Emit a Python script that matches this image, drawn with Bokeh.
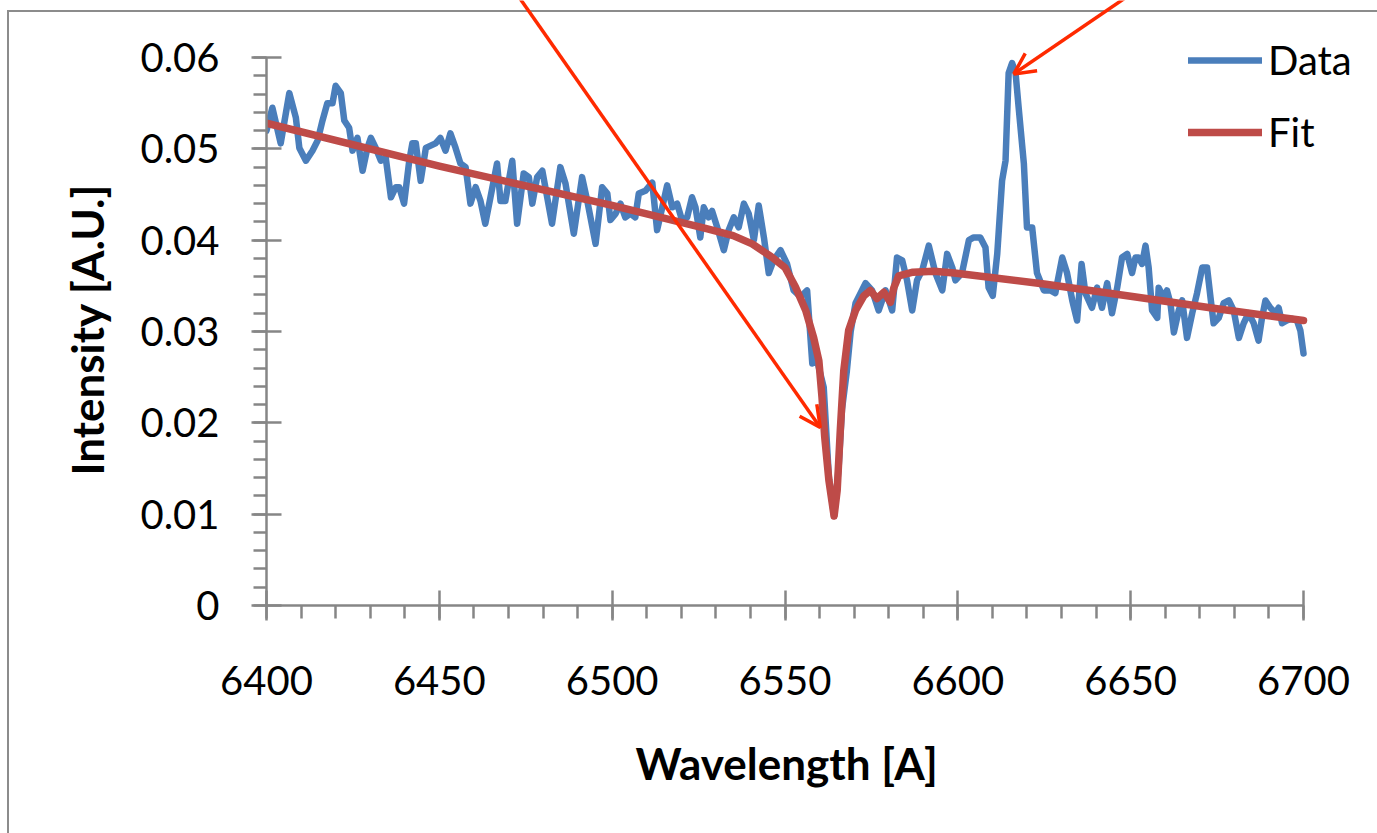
import numpy as np
from bokeh.plotting import figure
from bokeh.models import SingleIntervalTicker, CustomJSTickFormatter, Arrow, OpenHead, Title
from bokeh.embed import file_html
from bokeh.resources import INLINE

# Measured spectrum (wavelength in Angstrom, intensity in arbitrary units)
WAVELENGTH = [
    6400.0, 6401.7, 6404.1, 6406.6, 6408.5, 6409.5, 6411.4, 6413.3, 6414.8, 6416.2,
    6417.6, 6419.1, 6420.0, 6421.5, 6422.5, 6423.9, 6424.9, 6426.3, 6427.8, 6429.2,
    6430.2, 6431.6, 6433.1, 6434.5, 6436.0, 6437.4, 6438.4, 6439.8, 6441.3, 6442.2,
    6443.2, 6444.6, 6446.1, 6448.9, 6450.3, 6451.8, 6453.2, 6454.7, 6456.1, 6457.6,
    6459.0, 6460.5, 6461.9, 6463.3, 6464.8, 6466.7, 6467.7, 6469.1, 6471.1, 6472.5,
    6474.4, 6475.9, 6476.9, 6478.3, 6479.8, 6481.2, 6482.6, 6485.0, 6486.5, 6488.9,
    6491.3, 6492.8, 6495.2, 6497.1, 6498.6, 6499.5, 6501.0, 6502.4, 6503.8, 6505.3,
    6506.7, 6507.7, 6509.6, 6511.6, 6513.0, 6514.5, 6515.9, 6517.4, 6518.8, 6520.2,
    6521.7, 6523.1, 6524.1, 6525.5, 6526.5, 6527.9, 6528.9, 6530.4, 6532.3, 6533.7,
    6535.2, 6536.6, 6538.1, 6539.5, 6541.0, 6542.4, 6543.9, 6545.3, 6546.7, 6548.7,
    6550.6, 6552.5, 6554.5, 6556.4, 6557.9, 6559.3, 6561.2, 6562.7, 6564.2, 6565.5,
    6566.5, 6567.9, 6569.0, 6570.4, 6573.3, 6575.2, 6577.1, 6579.1, 6581.0, 6582.4,
    6583.9, 6585.3, 6586.8, 6588.2, 6589.7, 6591.6, 6593.5, 6595.5, 6596.9, 6598.4,
    6599.3, 6601.2, 6603.2, 6604.6, 6606.5, 6608.0, 6608.9, 6610.1, 6611.4, 6612.8,
    6613.8, 6614.7, 6615.7, 6616.7, 6617.6, 6619.1, 6620.0, 6621.5, 6622.9, 6624.9,
    6626.8, 6628.2, 6630.2, 6631.6, 6633.1, 6634.5, 6635.8, 6636.9, 6638.8, 6640.3,
    6641.7, 6643.2, 6644.6, 6646.1, 6647.5, 6649.0, 6650.4, 6651.4, 6652.3, 6653.3,
    6654.3, 6655.2, 6656.2, 6657.7, 6658.1, 6659.6, 6660.5, 6661.5, 6662.5, 6663.9,
    6664.9, 6666.3, 6667.8, 6669.2, 6670.7, 6672.1, 6673.1, 6674.0, 6675.5, 6676.9,
    6678.4, 6679.8, 6681.3, 6682.7, 6684.1, 6685.6, 6687.0, 6688.0, 6689.0, 6690.4,
    6691.9, 6692.8, 6693.8, 6695.2, 6696.7, 6698.1, 6699.1, 6700.0,
]
INTENSITY = [
    0.0520, 0.0545, 0.0506, 0.0561, 0.0534, 0.0501, 0.0487, 0.0498, 0.0509, 0.0531,
    0.0550, 0.0550, 0.0569, 0.0561, 0.0531, 0.0523, 0.0498, 0.0512, 0.0476, 0.0501,
    0.0512, 0.0501, 0.0487, 0.0490, 0.0447, 0.0458, 0.0458, 0.0440, 0.0487, 0.0506,
    0.0506, 0.0465, 0.0501, 0.0506, 0.0512, 0.0498, 0.0517, 0.0501, 0.0484, 0.0480,
    0.0440, 0.0458, 0.0443, 0.0418, 0.0447, 0.0484, 0.0443, 0.0443, 0.0487, 0.0418,
    0.0473, 0.0469, 0.0440, 0.0469, 0.0476, 0.0447, 0.0418, 0.0480, 0.0462, 0.0407,
    0.0469, 0.0443, 0.0396, 0.0458, 0.0451, 0.0422, 0.0429, 0.0440, 0.0425, 0.0429,
    0.0425, 0.0451, 0.0454, 0.0463, 0.0411, 0.0436, 0.0460, 0.0436, 0.0440, 0.0422,
    0.0425, 0.0447, 0.0436, 0.0403, 0.0436, 0.0425, 0.0432, 0.0414, 0.0389, 0.0411,
    0.0425, 0.0414, 0.0440, 0.0429, 0.0400, 0.0438, 0.0403, 0.0364, 0.0378, 0.0389,
    0.0374, 0.0345, 0.0338, 0.0345, 0.0265, 0.0268, 0.0239, 0.0140, 0.0098, 0.0150,
    0.0215, 0.0257, 0.0300, 0.0331, 0.0353, 0.0345, 0.0323, 0.0345, 0.0323, 0.0381,
    0.0378, 0.0356, 0.0323, 0.0356, 0.0367, 0.0394, 0.0364, 0.0345, 0.0385, 0.0370,
    0.0356, 0.0364, 0.0400, 0.0403, 0.0403, 0.0392, 0.0348, 0.0339, 0.0385, 0.0465,
    0.0487, 0.0583, 0.0594, 0.0583, 0.0545, 0.0484, 0.0414, 0.0414, 0.0364, 0.0345,
    0.0345, 0.0342, 0.0381, 0.0364, 0.0334, 0.0312, 0.0374, 0.0342, 0.0326, 0.0348,
    0.0326, 0.0353, 0.0320, 0.0348, 0.0381, 0.0385, 0.0364, 0.0381, 0.0381, 0.0374,
    0.0394, 0.0370, 0.0323, 0.0315, 0.0348, 0.0337, 0.0345, 0.0331, 0.0299, 0.0323,
    0.0334, 0.0293, 0.0320, 0.0342, 0.0370, 0.0370, 0.0337, 0.0309, 0.0315, 0.0331,
    0.0334, 0.0323, 0.0293, 0.0309, 0.0320, 0.0309, 0.0290, 0.0315, 0.0334, 0.0326,
    0.0320, 0.0326, 0.0309, 0.0312, 0.0314, 0.0312, 0.0301, 0.0276,
]

# Fitted model: sloping continuum with an absorption line near 6564 A
FIT_WAVELENGTH = [
    6400.0, 6450.0, 6500.0, 6527.0, 6535.0, 6540.5, 6546.0, 6550.0, 6553.0, 6556.0,
    6558.3, 6559.8, 6560.7, 6561.5, 6562.7, 6564.2, 6565.1, 6566.0, 6567.0, 6568.4,
    6570.4, 6572.8, 6574.7, 6576.6, 6578.6, 6580.5, 6581.5, 6582.9, 6587.0, 6593.0,
    6599.0, 6625.0, 6651.0, 6675.0, 6700.0,
]
FIT_INTENSITY = [
    0.0528, 0.0481, 0.0438, 0.0413, 0.0405, 0.0396, 0.0382, 0.0370, 0.0349, 0.0323,
    0.0293, 0.0268, 0.0228, 0.0184, 0.0137, 0.0098, 0.0126, 0.0192, 0.0257, 0.0301,
    0.0323, 0.0339, 0.0345, 0.0336, 0.0343, 0.0332, 0.0348, 0.0361, 0.0365, 0.0366,
    0.0364, 0.0352, 0.0338, 0.0325, 0.0312,
]

X_AXIS = (6400, 6700)
Y_AXIS = (0, 0.06)
X_TICK_STEP = 50
Y_TICK_STEP = 0.01
X_TITLE = "Wavelength [A]"
Y_TITLE = "Intensity [A.U.]"

# Call-out arrows: (start wavelength, start intensity, tip wavelength, tip intensity)
CALLOUTS = [
    (6471.4, 0.0675, 6560.2, 0.0195),
    (6652.2, 0.0675, 6616.2, 0.0582),
]

DATA_COLOR = "#4A7EBB"
FIT_COLOR = "#BE4B48"
ARROW_COLOR = "#FF2A00"
AXIS_COLOR = "#868686"
FRAME_COLOR = "#8C8C8C"
FONT = "Lato"

# Page geometry (pixels)
W, H = 1377, 833
AXIS_LEFT, AXIS_RIGHT = 266, 1303      # screen x of 6400 and 6700
AXIS_TOP, AXIS_BOTTOM = 57, 605        # screen y of 0.06 and 0

# The plotting frame runs to the top and right edges so the call-outs and the
# legend can sit above / beside the axes; the axes are bounded to their range.
px_per_x = (AXIS_RIGHT - AXIS_LEFT) / (X_AXIS[1] - X_AXIS[0])
px_per_y = (AXIS_BOTTOM - AXIS_TOP) / (Y_AXIS[1] - Y_AXIS[0])
x_end = X_AXIS[0] + (W - AXIS_LEFT) / px_per_x
y_end = Y_AXIS[0] + AXIS_BOTTOM / px_per_y

p = figure(width=W, height=H, output_backend="svg", toolbar_location=None,
           x_range=(X_AXIS[0], x_end), y_range=(Y_AXIS[0], y_end),
           min_border_left=AXIS_LEFT, min_border_right=0,
           min_border_top=0, min_border_bottom=H - AXIS_BOTTOM)
p.outline_line_color = None
p.background_fill_alpha = 0
p.border_fill_alpha = 0
# chart-area frame (left and top edges) painted behind the transparent canvas
p.styles = {
    "background": (
        f"linear-gradient({FRAME_COLOR},{FRAME_COLOR}) 7px 10px / 2px 100% no-repeat, "
        f"linear-gradient({FRAME_COLOR},{FRAME_COLOR}) 7px 10px / 100% 2px no-repeat, "
        "#ffffff"
    )
}
p.xgrid.visible = False
p.ygrid.visible = False

p.line(WAVELENGTH, INTENSITY, line_color=DATA_COLOR, line_width=6.5,
       line_join="round", line_cap="round", legend_label="Data")
p.line(FIT_WAVELENGTH, FIT_INTENSITY, line_color=FIT_COLOR, line_width=7.5,
       line_join="round", line_cap="round", legend_label="Fit")

p.xaxis.ticker = SingleIntervalTicker(interval=X_TICK_STEP, num_minor_ticks=5)
p.yaxis.ticker = SingleIntervalTicker(interval=Y_TICK_STEP, num_minor_ticks=5)
p.xaxis.bounds = X_AXIS
p.yaxis.bounds = Y_AXIS
p.yaxis.formatter = CustomJSTickFormatter(
    code="return Math.abs(tick) < 1e-9 ? '0' : tick.toFixed(2);")

for ax in (p.xaxis[0], p.yaxis[0]):
    ax.axis_line_color = AXIS_COLOR
    ax.axis_line_width = 2.5
    ax.major_tick_line_color = AXIS_COLOR
    ax.major_tick_line_width = 2.5
    ax.minor_tick_line_color = AXIS_COLOR
    ax.minor_tick_line_width = 2.5
    ax.major_tick_in = 15
    ax.major_tick_out = 15
    ax.minor_tick_in = 0
    ax.minor_tick_out = 13
    ax.major_label_text_font = FONT
    ax.major_label_text_font_size = "40px"
    ax.major_label_text_color = "#000000"

p.xaxis.major_label_standoff = 45
p.yaxis.major_label_standoff = 32

# Axis titles, centred on the bounded axes rather than on the wider frame
title_style = dict(text_font=FONT, text_font_size="44px", text_font_style="bold",
                   text_color="#000000", align="left")
p.add_layout(Title(text=X_TITLE, offset=369, standoff=74, **title_style), "below")
p.add_layout(Title(text=Y_TITLE, offset=130, standoff=50, **title_style), "left")

leg = p.legend[0]
leg.location = (922, 449)
leg.border_line_color = None
leg.background_fill_alpha = 0
leg.padding = 0
leg.margin = 0
leg.spacing = 24
leg.glyph_width = 74
leg.glyph_height = 40
leg.label_height = 40
leg.label_standoff = 6
leg.label_text_font = FONT
leg.label_text_font_size = "40px"
leg.label_text_color = "#000000"

for xs, ys, xe, ye in CALLOUTS:
    p.add_layout(Arrow(x_start=xs, y_start=ys, x_end=xe, y_end=ye,
                       line_color=ARROW_COLOR, line_width=3.5,
                       end=OpenHead(size=21, line_color=ARROW_COLOR, line_width=3.5)))

open("out.html", "w").write(file_html(p, INLINE))
